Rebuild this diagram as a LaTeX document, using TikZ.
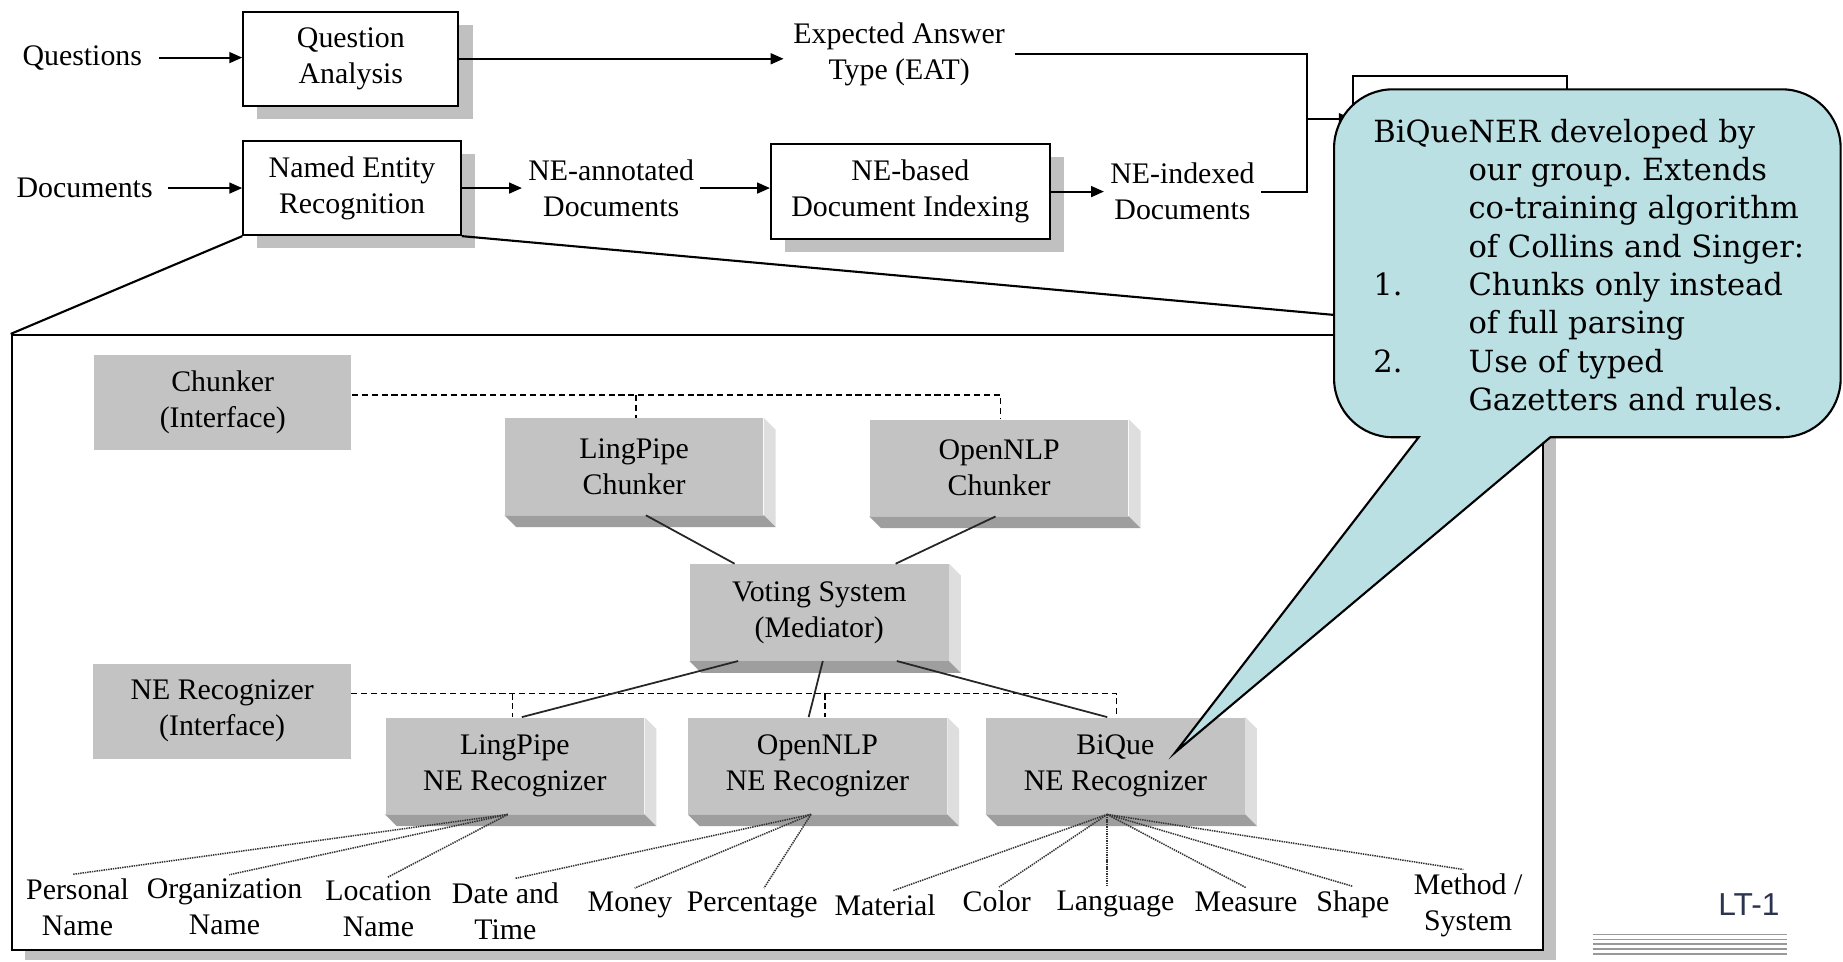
\documentclass[tikz,border=0pt]{standalone}
\usepackage{fontspec}
\setmainfont{Liberation Serif}
\newfontfamily\callfont{DejaVu Serif}
\newfontfamily\ltsans{Liberation Sans}
\usetikzlibrary{arrows.meta,shadows,calc}
\frenchspacing
\definecolor{shadowgray}{RGB}{192,192,192}
\definecolor{facegray}{RGB}{195,195,195}
\definecolor{bottomgray}{RGB}{158,158,158}
\definecolor{sidegray}{RGB}{222,222,222}
\definecolor{calloutfill}{RGB}{187,224,228}
\definecolor{ltblue}{RGB}{45,52,80}
\tikzset{
  txt/.style={font=\fontsize{12.7}{15.3}\selectfont, align=center, inner sep=2.5pt},
  lbl/.style={txt, inner sep=1.5pt},
  wbox/.style={txt, draw, line width=0.9pt, fill=white, inner sep=0pt,
    drop shadow={shadow xshift=6pt, shadow yshift=-5.5pt, fill=shadowgray, opacity=1}},
  fbox/.style={txt, fill=facegray, minimum width=110pt, minimum height=41pt, inner sep=0pt},
  ibox/.style={txt, fill=facegray, minimum width=109.5pt, minimum height=40.5pt, inner sep=0pt},
  arr/.style={-{Triangle[length=5.5pt,width=4.6pt]}, line width=0.9pt},
  ln/.style={line width=0.9pt},
  dashline/.style={line width=0.6pt, dash pattern=on 2.6pt off 1.6pt},
  assoc/.style={line width=0.75pt, black!85},
  dotline/.style={line width=0.65pt, black!80, dash pattern=on 0.6pt off 0.4pt},
}
\newcommand\tdbox[4]{%
  \node[fbox] (#1) at (#2,#3) {#4};
  \fill[sidegray] (#1.north east) -- ++(10,10) -- ($(#1.south east)+(10,10)$) -- (#1.south east) -- cycle;
  \fill[bottomgray] (#1.south west) -- (#1.south east) -- ($(#1.south east)+(10,10)$) -- ($(#1.south west)+(10,10)$) -- cycle;
}
\begin{document}
\begin{tikzpicture}[x=0.5pt,y=-0.5pt]
\useasboundingbox (0,0) rectangle (1568,818);
\fill[white] (0,0) rectangle (1568,818);

% ---------- top row ----------
\node[txt, inner xsep=7pt] (q) at (70,49) {Questions};
\node[wbox, minimum width=91.5pt, minimum height=40pt] (qa) at (298.5,50) {Question\\Analysis};
\node[txt, inner xsep=4pt] (eat) at (765,46) {Expected Answer\\Type (EAT)};
\node[wbox, minimum width=91pt, minimum height=40pt] (hb) at (1242,105) {};
\coordinate (jx) at (1112,101);

\node[txt, inner xsep=6.5pt] (d) at (72,160) {Documents};
\node[wbox, minimum width=92.5pt, minimum height=40pt] (ner) at (299.5,160) {Named Entity\\Recognition};
\node[txt] (ann) at (520,160) {NE-annotated\\Documents};
\node[wbox, minimum width=118.5pt, minimum height=40.5pt] (nbi) at (774.5,163) {NE-based\\Document Indexing};
\node[txt] (idx) at (1006,163) {NE-indexed\\Documents};

\draw[arr] (q.east) -- (q.east -| qa.west);
\draw[arr] (qa.east) -- (qa.east -| eat.west);
\draw[ln] (eat.east) -| (jx) |- (idx.east);
\draw[arr] (jx) -- (jx -| hb.west);
\draw[arr] (d.east) -- (d.east -| ner.west);
\draw[arr] (ner.east) -- (ner.east -| ann.west);
\draw[arr] (ann.east) -- (ann.east -| nbi.west);
\draw[arr] (nbi.east) -- (nbi.east -| idx.west);

% ---------- panel ----------
\node[draw, line width=0.9pt, fill=white, minimum width=651.5pt, minimum height=261.5pt, inner sep=0pt,
  drop shadow={shadow xshift=5.5pt, shadow yshift=-4.5pt, fill=shadowgray, opacity=1}] (panel) at (661.5,546.5) {};
\draw[ln] (ner.south west) -- (panel.north west);
\draw[ln] (ner.south east) -- (panel.north east);

\node[ibox] (ci) at (189.5,342.5) {Chunker\\(Interface)};
\node[ibox] (ni) at (189,605) {NE Recognizer\\(Interface)};

\tdbox{lpc}{539.5}{397}{LingPipe\\Chunker}
\tdbox{onc}{850}{398}{OpenNLP\\Chunker}
\tdbox{vote}{697}{521}{Voting System\\(Mediator)}
\tdbox{lpn}{438}{651.5}{LingPipe\\NE Recognizer}
\tdbox{onn}{695.5}{651.5}{OpenNLP\\NE Recognizer}
\tdbox{bqn}{949}{651.5}{BiQue\\NE Recognizer}

% dashed interface lines
\coordinate (cb1) at (541,336);
\coordinate (cb2) at (851,336);
\draw[dashline] (ci.east |- cb1) -- (cb2) -- (cb2 |- onc.north);
\draw[dashline] (cb1) -- (cb1 |- lpc.north);
\coordinate (nb1) at (436,590);
\coordinate (nb2) at (702,590);
\coordinate (nb3) at (950,590);
\draw[dashline] (ni.east |- nb1) -- (nb3) -- (nb3 |- bqn.north);
\draw[dashline] (nb1) -- (nb1 |- lpn.north);
\draw[dashline] (nb2) -- (nb2 |- onn.north);

% associations
\draw[assoc] ([xshift=5pt]lpc.south) -- ([xshift=-36pt]vote.north);
\draw[assoc] ([xshift=-1.5pt]onc.south) -- ([xshift=32.5pt]vote.north);
\draw[assoc] ([xshift=-34.5pt]vote.south) -- ([xshift=3pt]lpn.north);
\draw[assoc] ([xshift=1.5pt]vote.south) -- ([xshift=-3.75pt]onn.north);
\draw[assoc] ([xshift=33pt]vote.south) -- ([xshift=-3.5pt]bqn.north);

% entity type labels
\node[lbl] (pn) at (66,771.5) {Personal\\Name};
\node[lbl] (on) at (191,771.5) {Organization\\Name};
\node[lbl] (lnm) at (322,773.5) {Location\\Name};
\node[lbl] (dt) at (430,775) {Date and\\Time};
\node[lbl] (mo) at (536,770) {Money};
\node[lbl] (pc) at (640,770) {Percentage};
\node[lbl] (ma) at (753,770) {Material};
\node[lbl] (co) at (848,767) {Color};
\node[lbl] (la) at (949,769) {Language};
\node[lbl] (me) at (1060,767) {Measure};
\node[lbl] (sh) at (1151,769) {Shape};
\node[lbl] (ms) at (1249,770) {Method /\\System};

\coordinate (h1) at ($(lpn.south)+(-6,0)$);
\coordinate (h2) at ($(onn.south)+(-5.5,0)$);
\coordinate (h3) at ($(bqn.south)+(-7,0)$);
\draw[dotline] (h1) -- ([xshift=-2pt]pn.north);
\draw[dotline] (h1) -- ([xshift=2pt]on.north);
\draw[dotline] (h1) -- ([xshift=4pt]lnm.north);
\draw[dotline] (h2) -- ([xshift=4pt]dt.north);
\draw[dotline] (h2) -- ([xshift=2pt]mo.north);
\draw[dotline] (h2) -- ([xshift=5pt]pc.north);
\draw[dotline] (h3) -- ([xshift=3.5pt]ma.north);
\draw[dotline] (h3) -- ([xshift=1pt]co.north);
\draw[dotline] (h3) -- ([xshift=-3.5pt]la.north);
\draw[dotline] (h3) -- (me.north);
\draw[dotline] (h3) -- (sh.north);
\draw[dotline] (h3) -- ([xshift=-2pt]ms.north);

% slide marker
\node[font=\ltsans\fontsize{13.5}{16}\selectfont, text=ltblue] (lt) at (1488,770) {LT-1};
\foreach \yy in {795,799.2,803.4,807.6,811.8}
  \draw[black!40, line width=0.7pt] (1355,\yy) -- (1520,\yy);

% ---------- callout ----------
\coordinate (tip) at (1000,640);
\draw[line width=0.9pt, fill=calloutfill]
  (1135,126) .. controls (1135,98.4) and (1157.4,76) .. (1185,76)
  -- (1516,76) .. controls (1543.6,76) and (1566,98.4) .. (1566,126)
  -- (1566,322) .. controls (1566,349.6) and (1543.6,372) .. (1516,372)
  -- (1319,372) -- (tip) -- (1207,372)
  -- (1185,372) .. controls (1157.4,372) and (1135,349.6) .. (1135,322) -- cycle;
\node[font=\callfont\fontsize{13}{16.3}\selectfont, anchor=base west, inner sep=0pt] (ctext) at (1168,121)
{\begin{tabular}[t]{@{}p{40.5pt}@{}l@{}}
\multicolumn{2}{@{}l@{}}{BiQueNER developed by}\\
 & our group. Extends\\
 & co-training algorithm\\
 & of Collins and Singer:\\
1. & Chunks only instead\\
 & of full parsing\\
2. & Use of typed\\
 & Gazetters and rules.
\end{tabular}};
\end{tikzpicture}
\end{document}
